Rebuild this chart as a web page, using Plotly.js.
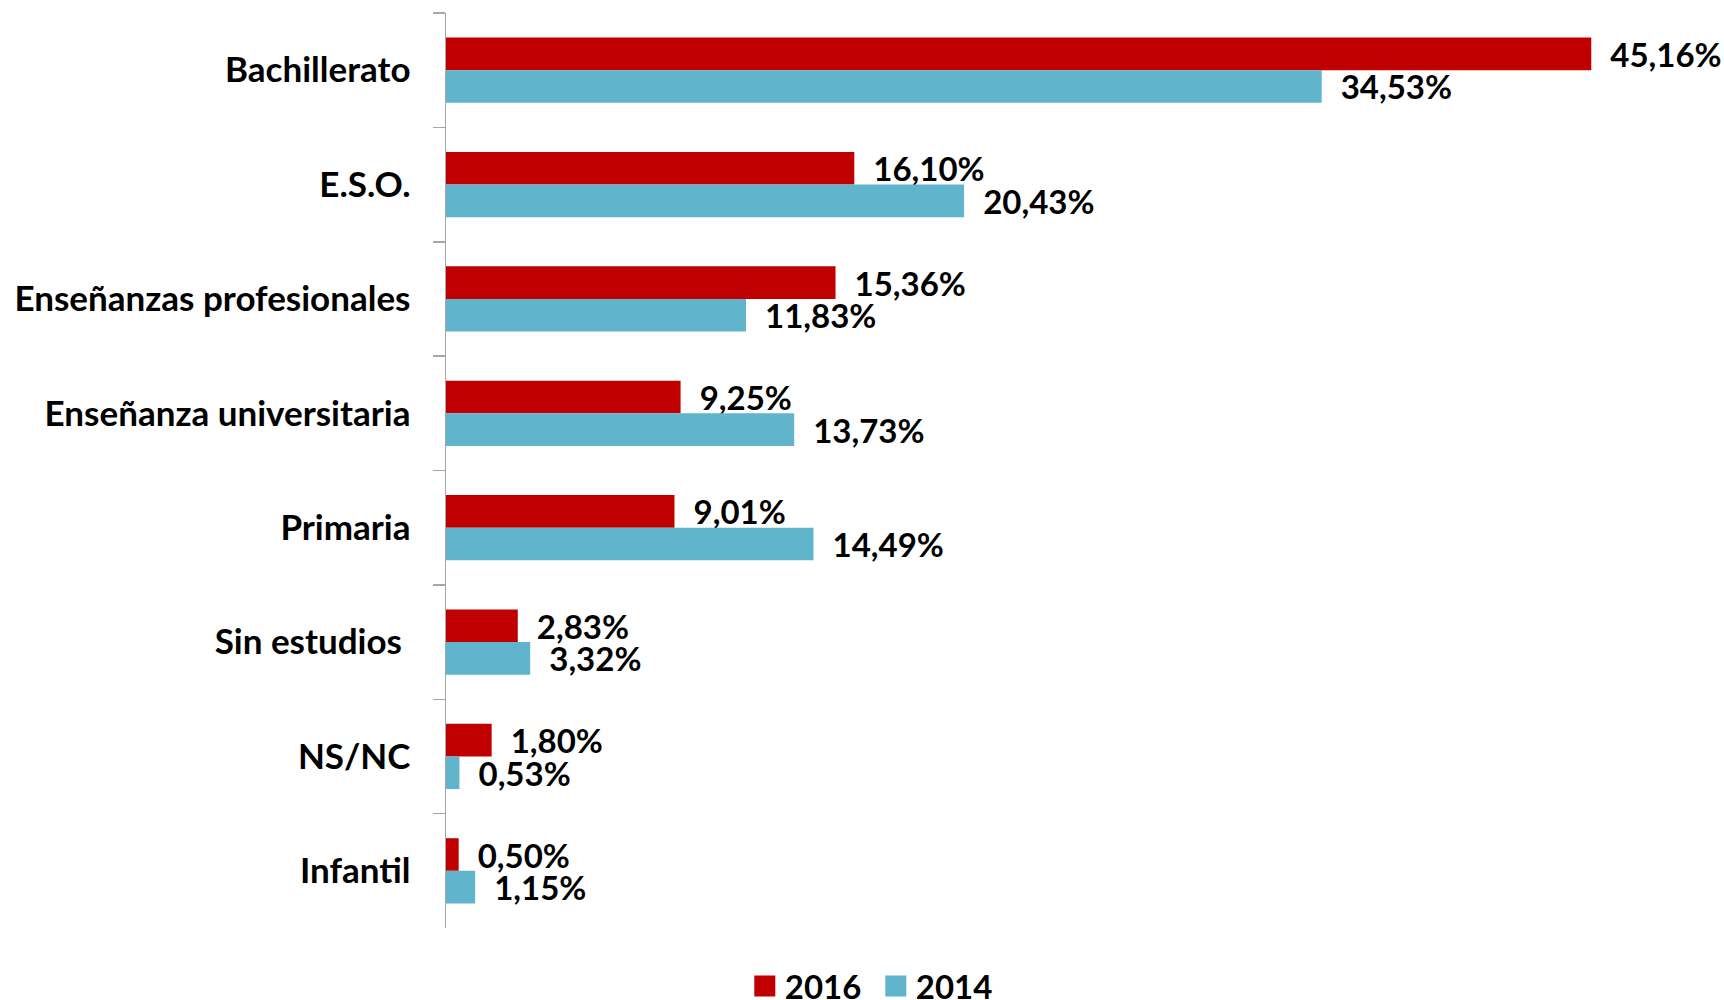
<!DOCTYPE html>
<html>
<head>
<meta charset="utf-8">
<script src="https://cdn.plot.ly/plotly-3.0.1.min.js"></script>
<style>html,body{margin:0;padding:0;background:#fff;}#chart{width:1724px;height:1000px;}</style>
</head>
<body>
<div id="chart"></div>
<script>
const categories = ["Bachillerato", "E.S.O.", "Enseñanzas profesionales", "Enseñanza universitaria", "Primaria", "Sin estudios\u00A0", "NS/NC", "Infantil"];
const values2016 = [45.16, 16.10, 15.36, 9.25, 9.01, 2.83, 1.80, 0.50];
const values2014 = [34.53, 20.43, 11.83, 13.73, 14.49, 3.32, 0.53, 1.15];
const seriesNames = ["2016", "2014"];

const FONT = "Lato, 'Open Sans', sans-serif";
const labelFont = {family: FONT, size: 33, color: "#000", weight: "bold"};

function makeTrace(name, vals, color) {
  return {
    type: "bar", orientation: "h", name: name,
    y: categories, x: vals,
    marker: {color: color},
    texttemplate: "\u00A0\u00A0%{x:.2f}%",
    textposition: "outside",
    textfont: labelFont,
    constraintext: "none",
    cliponaxis: false,
    hoverinfo: "skip"
  };
}

const data = [
  makeTrace(seriesNames[0], values2016, "#C00000"),
  makeTrace(seriesNames[1], values2014, "#60B4CC")
];

const layout = {
  width: 1724, height: 1000,
  margin: {l: 446, r: 10, t: 13, b: 72},
  paper_bgcolor: "#fff", plot_bgcolor: "#fff",
  separators: ",.",
  barmode: "group",
  bargap: 0.43, bargroupgap: 0,
  showlegend: true,
  legend: {orientation: "h", x: 0.508, xref: "container", xanchor: "center",
           y: 0, yref: "container", yanchor: "bottom",
           entrywidth: 86, tracegroupgap: 0,
           font: {family: FONT, size: 33, color: "#000", weight: "bold"}, traceorder: "normal"},
  xaxis: {range: [0, 50], visible: false, showgrid: false, zeroline: false, fixedrange: true},
  yaxis: {autorange: "reversed", showline: true, linecolor: "#a6a6a6", linewidth: 1.5,
          ticks: "outside", ticklen: 12, tickcolor: "#a6a6a6", tickwidth: 1.5, tickson: "boundaries",
          ticklabelstandoff: 27,
          tickfont: {family: FONT, size: 35, color: "#000", weight: "bold"}, showgrid: false, zeroline: false}
};

Plotly.newPlot("chart", data, layout, {displayModeBar: false, staticPlot: true}).then(function(gd){
  document.querySelectorAll(".legendpoints path").forEach(function(p){
    p.setAttribute("d", "M10.5,10.5H-10.5V-10.5H10.5Z");
  });
  var lg = document.querySelector("g.legend");
  if (lg) {
    var t = lg.getAttribute("transform") || "";
    var m = t.match(/translate\(\s*([-\d.e]+)[ ,]+([-\d.e]+)\s*\)/);
    if (m) lg.setAttribute("transform", "translate(" + m[1] + "," + (parseFloat(m[2]) + 14) + ")");
  }
});
</script>
</body>
</html>
